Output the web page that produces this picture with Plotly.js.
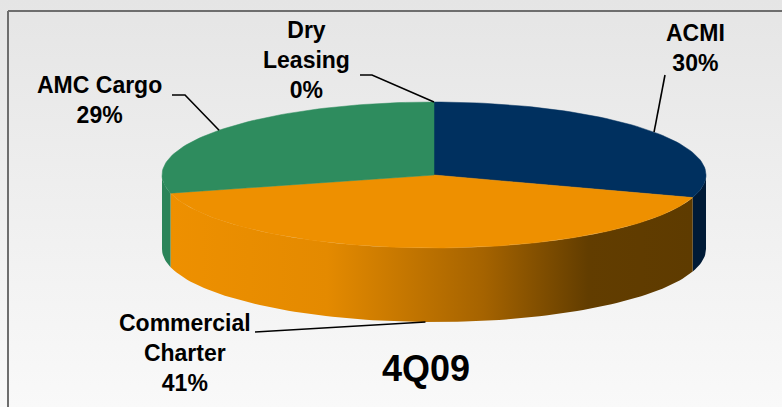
<!DOCTYPE html>
<html><head><meta charset="utf-8">
<script src="https://cdn.plot.ly/plotly-3.0.1.min.js"></script>
<style>html,body{margin:0;padding:0;} #chart{width:782px;height:407px;background:linear-gradient(#e5e5e5,#f9f9f9);}</style>
</head><body><div id="chart"></div>
<script>
// ---- data ----
const categories = ['ACMI', 'Commercial Charter', 'AMC Cargo', 'Dry Leasing'];
const values = [30, 41, 29, 0];
const labelText = ['ACMI<br>30%', 'Commercial<br>Charter<br>41%', 'AMC Cargo<br>29%', 'Dry<br>Leasing<br>0%'];
const chartTitle = '4Q09';

// ---- styles / layout constants ----
const topColors = ['#00305F', '#EE9000', '#2E8C5E', '#999999'];
const sideColors = ['#001A36', null, '#2B8459', '#888888'];
const orangeSideScale = [[0, '#EE9000'], [0.3, '#E48A00'], [0.6, '#A56300'], [0.8, '#623D00'], [1, '#5E3B00']];
const labelPos = [[695, 48], [185, 353], [99, 100], [306, 60]];
const elbows = [[[665, 75]], [[262, 332], [255, 332]], [[185, 95], [172, 95]], [[372, 75], [360, 75]]];

const cx = 434, cy = 175, rx = 272, ry = 73, h = 74;
function pt(deg, dy) { const r = deg * Math.PI / 180; return [cx + rx * Math.cos(r), cy - ry * Math.sin(r) + (dy || 0)]; }
function arc(a, b, dy) { const n = Math.max(2, Math.ceil(Math.abs(b - a) / 1.5)); const out = []; for (let i = 0; i <= n; i++) out.push(pt(a + (b - a) * i / n, dy)); return out; }

const total = values.reduce((s, v) => s + v, 0);
const slices = []; let a0 = 90;
values.forEach((v, i) => { const a1 = a0 - 360 * v / total; slices.push([a0, a1]); a0 = a1; });

const traces = [];
// sides (front half only)
slices.forEach(([s, e], i) => {
  if (s === e) return;
  [[-180, 0], [-540, -360]].forEach(([lo, hi]) => {
    const l = Math.max(e, lo), r = Math.min(s, hi);
    if (r <= l) return;
    const pts = arc(l, r, 0).concat(arc(r, l, h));
    const tr = { x: pts.map(p => p[0]), y: pts.map(p => p[1]), mode: 'lines', fill: 'toself', line: { width: 0 }, hoverinfo: 'skip', type: 'scatter' };
    if (sideColors[i]) { tr.fillcolor = sideColors[i]; }
    else {
      const xs = pts.map(p => p[0]);
      tr.fillcolor = topColors[i];
      tr.fillgradient = { type: 'horizontal', colorscale: orangeSideScale, start: Math.min(...xs), stop: Math.max(...xs) };
    }
    traces.push(tr);
  });
});
// top faces
slices.forEach(([s, e], i) => {
  if (s === e) return;
  const pts = [[cx, cy]].concat(arc(s, e, 0)).concat([[cx, cy]]);
  traces.push({ x: pts.map(p => p[0]), y: pts.map(p => p[1]), mode: 'lines', fill: 'toself', fillcolor: topColors[i], line: { width: 0.5, color: topColors[i] }, hoverinfo: 'skip', type: 'scatter' });
});
// leader lines
slices.forEach(([s, e], i) => {
  const mid = (s + e) / 2;
  const front = Math.sin(mid * Math.PI / 180) < 0;
  const p = pt(mid, front ? h : 0);
  const pts = [p].concat(elbows[i]);
  traces.push({ x: pts.map(q => q[0]), y: pts.map(q => q[1]), mode: 'lines', line: { color: '#000', width: 1.6 }, hoverinfo: 'skip', type: 'scatter' });
});

const font = { family: 'Liberation Sans, Arial, sans-serif', size: 23, color: '#000' };
const annotations = labelText.map((t, i) => ({ x: labelPos[i][0], y: labelPos[i][1], xref: 'x', yref: 'y', text: '<b>' + t + '</b>', showarrow: false, font: font, xanchor: 'center', yanchor: 'middle', align: 'center' }));
annotations.push({ x: 426, y: 368, xref: 'x', yref: 'y', text: '<b>' + chartTitle + '</b>', showarrow: false, font: { family: 'Liberation Sans, Arial, sans-serif', size: 36, color: '#000' }, xanchor: 'center', yanchor: 'middle' });

const layout = {
  width: 782, height: 407, margin: { l: 0, r: 0, t: 0, b: 0 },
  paper_bgcolor: 'rgba(0,0,0,0)', plot_bgcolor: 'rgba(0,0,0,0)', showlegend: false,
  xaxis: { range: [0, 782], visible: false, fixedrange: true },
  yaxis: { range: [407, 0], visible: false, fixedrange: true },
  annotations: annotations,
  shapes: [
    { type: 'line', xref: 'x', yref: 'y', x0: 8, y0: 407, x1: 8, y1: 11, line: { color: '#6e6e6e', width: 2 } },
    { type: 'line', xref: 'x', yref: 'y', x0: 8, y0: 11, x1: 782, y1: 11, line: { color: '#6e6e6e', width: 2 } }
  ]
};
Plotly.newPlot('chart', traces, layout, { staticPlot: true, displayModeBar: false });
</script></body></html>
